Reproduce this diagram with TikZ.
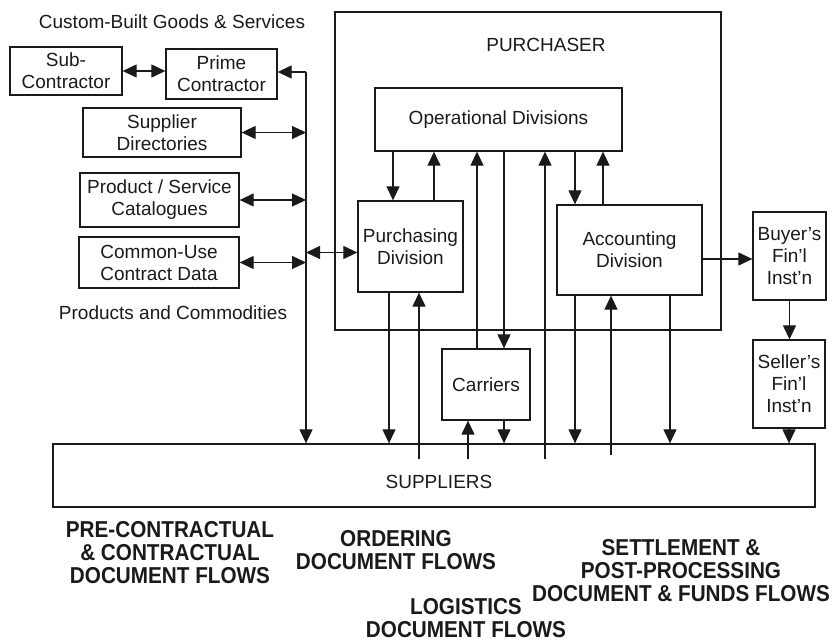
\documentclass[tikz,border=0pt]{standalone}
\usepackage{fontspec}
\setmainfont{Liberation Sans}
\newfontfamily\flowfont[FakeStretch=0.9]{Liberation Sans}
\usetikzlibrary{arrows.meta}
\definecolor{ink}{HTML}{1A1A1A}

\tikzset{
  box/.style={draw=ink, line width=1.3pt, inner sep=0pt, align=center,
    font=\fontsize{19}{22}\selectfont, text=ink},
  lbl/.style={font=\fontsize{19}{22}\selectfont, text=ink, inner sep=0pt},
  flow/.style={font=\flowfont\bfseries\fontsize{23}{23}\selectfont,
    align=center, text=ink, inner sep=0pt},
  tip/.tip={Triangle[length=14pt,width=13pt]},
  link/.style={draw=ink, line width=1.2pt, -tip},
  both/.style={draw=ink, line width=1.2pt, tip-tip},
}

\begin{document}
\begin{tikzpicture}[x=1pt,y=-1pt]
\useasboundingbox (0,0) rectangle (835,644);

% contracting side
\node[box, minimum width=112pt, minimum height=48pt] (sub) at (66,71) {Sub-\\Contractor};
\node[box, minimum width=111pt, minimum height=50pt] (prime) at (221.5,74) {Prime\\Contractor};
\node[box, minimum width=158pt, minimum height=49pt] (dir) at (162,132.5) {Supplier\\Directories};
\node[box, minimum width=159pt, minimum height=54pt] (cat) at (159.5,200) {Product / Service\\Catalogues};
\node[box, minimum width=160pt, minimum height=51pt] (cud) at (159,262.5) {Common-Use\\Contract Data};
\node[lbl] (custom) at (172,22) {Custom-Built Goods \& Services};
\node[lbl] (products) at (173,313) {Products and Commodities};

% purchaser and its divisions
\node[box, minimum width=386pt, minimum height=318pt] (pur) at (528,171) {};
\node[lbl] (purlbl) at (546,45) {PURCHASER};
\node[box, minimum width=247pt, minimum height=63pt] (ops) at (498.5,119.5) {Operational Divisions};
\node[box, minimum width=105pt, minimum height=91pt] (pd) at (410.5,246.5) {Purchasing\\Division};
\node[box, minimum width=145pt, minimum height=90pt] (acc) at (629.5,250) {Accounting\\Division};

% financial institutions, carriers, suppliers
\node[box, minimum width=73pt, minimum height=88pt] (buy) at (789.5,256) {Buyer's\\Fin'l\\Inst'n};
\node[box, minimum width=72pt, minimum height=88pt] (sel) at (789,384) {Seller's\\Fin'l\\Inst'n};
\node[box, minimum width=88pt, minimum height=71pt] (car) at (486,384.5) {Carriers};
\node[box, minimum width=762pt, minimum height=63pt] (sup) at (434,475.5) {};
\node[lbl] (suplbl) at (439,482) {SUPPLIERS};

% flow captions
\node[flow] (f1) at (170,553) {PRE-CONTRACTUAL\\\& CONTRACTUAL\\DOCUMENT FLOWS};
\node[flow] (f2) at (396,550) {ORDERING\\DOCUMENT FLOWS};
\node[flow] (f3) at (681,571) {SETTLEMENT \&\\POST-PROCESSING\\DOCUMENT \& FUNDS FLOWS};
\node[flow] (f4) at (466,618) {LOGISTICS\\DOCUMENT FLOWS};

% pre-contractual bus
\coordinate (bus) at (306,72);
\draw[both] (sub.east) -- (sub.east -| prime.west);
\draw[link] (bus) -- (bus -| prime.east);
\draw[link] (bus) -- (bus |- sup.north);
\draw[both] (dir.east) -- (dir.east -| bus);
\draw[both] (cat.east) -- (cat.east -| bus);
\draw[both] (cud.east) -- (cud.east -| bus);
\draw[both] ([yshift=-6pt]pd.west -| bus) -- ([yshift=-6pt]pd.west);

% operational divisions <-> purchasing / accounting
\draw[link] ([xshift=-17.5pt]pd.north |- ops.south) -- ([xshift=-17.5pt]pd.north);
\draw[link] ([xshift=23.5pt]pd.north) -- ([xshift=23.5pt]pd.north |- ops.south);
\draw[link] ([xshift=-54.5pt]acc.north |- ops.south) -- ([xshift=-54.5pt]acc.north);
\draw[link] ([xshift=-26.5pt]acc.north) -- ([xshift=-26.5pt]acc.north |- ops.south);

% logistics
\draw[link] ([xshift=-9pt]car.north) -- ([xshift=-9pt]car.north |- ops.south);
\draw[link] ([xshift=18pt]car.north |- ops.south) -- ([xshift=18pt]car.north);
\draw[link] ([xshift=18pt]car.south) -- ([xshift=18pt]car.south |- sup.north);
\draw[link] ([xshift=-18pt,yshift=-16pt]car.south |- sup.north) -- ([xshift=-18pt]car.south);
\draw[link] ([xshift=46.5pt,yshift=-16pt]ops.south |- sup.north) -- ([xshift=46.5pt]ops.south);

% ordering
\draw[link] ([xshift=-21.5pt]pd.south) -- ([xshift=-21.5pt]pd.south |- sup.north);
\draw[link] ([xshift=8.5pt,yshift=-16pt]pd.south |- sup.north) -- ([xshift=8.5pt]pd.south);

% settlement
\draw[link] ([xshift=-54.5pt]acc.south) -- ([xshift=-54.5pt]acc.south |- sup.north);
\draw[link] ([xshift=-18.5pt,yshift=-12pt]acc.south |- sup.north) -- ([xshift=-18.5pt]acc.south);
\draw[link] ([xshift=40.5pt]acc.south) -- ([xshift=40.5pt]acc.south |- sup.north);
\draw[link] ([yshift=-3pt]buy.west -| acc.east) -- ([yshift=-3pt]buy.west);
\draw[link] (buy.south) -- (buy.south |- sel.north);
\draw[link] (sel.south) -- (sel.south |- sup.north);
\end{tikzpicture}
\end{document}
